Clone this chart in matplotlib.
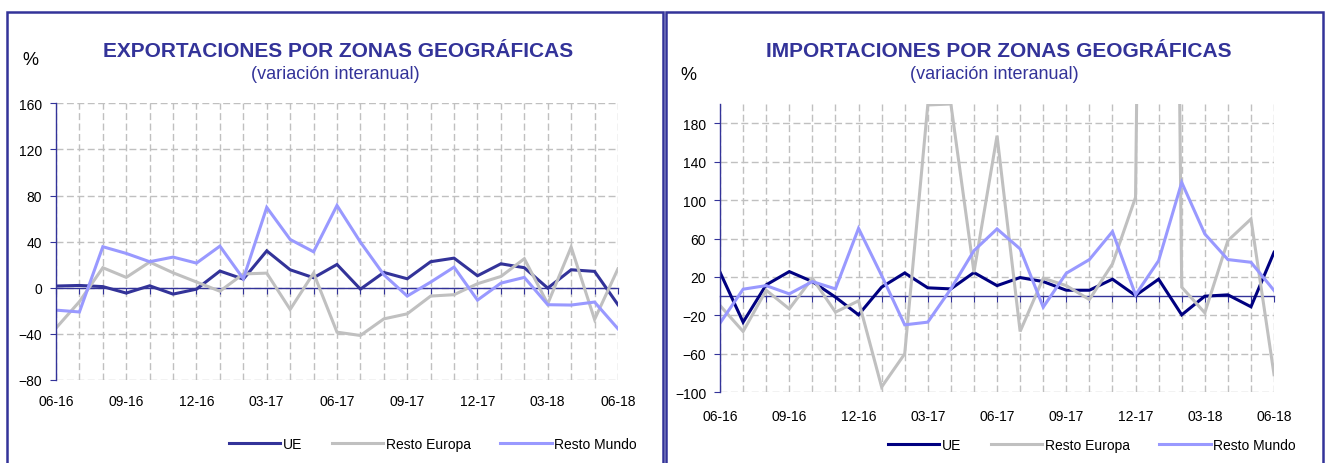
import matplotlib
matplotlib.use("Agg")
import matplotlib.pyplot as plt
from matplotlib.patches import Rectangle

plt.rcParams['font.family'] = ['Liberation Sans', 'DejaVu Sans']

# meses 06-16 .. 06-18
meses = ['06-16', '07-16', '08-16', '09-16', '10-16', '11-16', '12-16',
         '01-17', '02-17', '03-17', '04-17', '05-17', '06-17', '07-17',
         '08-17', '09-17', '10-17', '11-17', '12-17', '01-18', '02-18',
         '03-18', '04-18', '05-18', '06-18']

# exportaciones (variacion interanual, %)
exp_ue = [1.5, 2, 1, -4.6, 1.7, -5.5, -1.2, 14.5, 7.5, 32, 15.6, 8.7, 20.2,
          -1.2, 13.3, 7.8, 22.6, 25.7, 10.4, 20.8, 17.4, -0.3, 15.6, 14.2, -14.7]
exp_europa = [-35, -12, 17.4, 9, 22.3, 13, 5, -3, 12, 12.7, -18.8, 12.7, -38.5,
              -41.4, -27, -22.6, -7.2, -6, 3.5, 9.8, 25.2, -13.9, 35.3, -27.5, 16.5]
exp_mundo = [-19.4, -21, 35.6, 29.8, 22.6, 26.6, 21.4, 36.1, 7.8, 69.7, 41.9, 31.2, 71.4,
             39.6, 11.3, -7.2, 4.9, 17.9, -10.7, 4, 9, -14.7, -15, -12.4, -35.6]

# importaciones (variacion interanual, %)
imp_ue = [24.9, -27, 11.8, 25.6, 15.2, -1, -19.4, 9.4, 24.2, 8.7, 7.6, 24.6, 11,
          19.4, 15.2, 6.2, 6.2, 17.7, 0.7, 17.7, -19.4, 0, 1.4, -11, 45.7]
imp_europa = [-9.7, -36.7, 6.2, -13.2, 18.7, -16.6, -4.8, -94.5, -60, 199, 200, 25, 167,
              -36.7, 18.7, 11, -3.5, 33.6, 102.9, 2200, 9.4, -17.3, 57.8, 80.3, -81.7]
imp_mundo = [-28, 7.3, 11, 2.4, 15.2, 7.6, 70.6, 21.5, -29.8, -27, 7.6, 47.4, 70,
             49.2, -11.4, 23.9, 38.1, 67.2, 1.4, 37, 118.4, 64.8, 38.1, 35.3, 5.9]

series_nombres = ['UE', 'Resto Europa', 'Resto Mundo']
azul_marco = '#333399'
gris = '#c0c0c0'
lila = '#9999ff'

fig = plt.figure(figsize=(13.27, 4.64), dpi=100)

# marcos de los dos paneles
for x0 in (0.0049, 0.5019):
    fig.add_artist(Rectangle((x0, -0.05), 0.4950, 1.0226, transform=fig.transFigure,
                             fill=False, edgecolor=azul_marco, linewidth=1.8))


def panel(rect, datos, color_ue, ylim, yticks, titulo, tx, sx, px, py, leg_x, leg_y, xpad):
    ax = fig.add_axes(rect)
    x = list(range(len(meses)))
    colores = [color_ue, gris, lila]
    for serie, col, nombre in zip(datos, colores, series_nombres):
        ax.plot(x, serie, color=col, lw=2.2, label=nombre, solid_joinstyle='miter')
    ax.set_xlim(0, len(meses) - 1)
    ax.set_ylim(*ylim)
    ax.set_yticks(yticks)
    ax.set_xticks(x)
    ax.set_xticklabels([m if i % 3 == 0 else '' for i, m in enumerate(meses)])

    ax.grid(True, color=gris, linestyle=(0, (5, 2.5)), lw=1.0)
    ax.set_axisbelow(True)

    for s in ('right', 'bottom'):
        ax.spines[s].set_visible(False)
    ax.spines['left'].set_color(azul_marco)
    ax.spines['left'].set_linewidth(1.0)
    # eje de categorias cruzando en cero
    ax.spines['top'].set_position(('data', 0))
    ax.spines['top'].set_color(azul_marco)
    ax.spines['top'].set_linewidth(1.0)
    ax.spines['top'].set_zorder(1.5)

    ax.tick_params(axis='x', which='both', bottom=False, top=True, labelbottom=True,
                   labeltop=False, direction='in', length=4, color=azul_marco,
                   labelsize=10, pad=xpad)
    ax.tick_params(axis='y', direction='out', length=4, color=azul_marco, labelsize=10,
                   pad=6)

    fig.text(tx, 0.8772, titulo, ha='center', va='baseline', fontsize=15,
             fontweight='bold', color=azul_marco)
    fig.text(sx, 0.8289, '(variación interanual)', ha='center', va='baseline',
             fontsize=13, color=azul_marco)
    fig.text(px, py, '%', ha='center', va='baseline', fontsize=13, color='black')

    fig.legend(*ax.get_legend_handles_labels(), loc='center',
               bbox_to_anchor=(leg_x, leg_y), ncol=3, frameon=False, fontsize=10,
               handlelength=3.7, handletextpad=0.2, columnspacing=2.1)
    return ax


panel([0.0422, 0.1789, 0.4235, 0.5963], [exp_ue, exp_europa, exp_mundo], azul_marco,
      (-80, 160), list(range(-80, 161, 40)), 'EXPORTACIONES POR ZONAS GEOGRÁFICAS',
      0.2547, 0.2525, 0.0226, 0.860, 0.3263, 0.041, 10)

panel([0.5426, 0.1524, 0.4175, 0.6213], [imp_ue, imp_europa, imp_mundo], '#000080',
      (-100, 200), list(range(-100, 181, 40)), 'IMPORTACIONES POR ZONAS GEOGRÁFICAS',
      0.7528, 0.749, 0.5185, 0.8276, 0.8229, 0.0388, 12)

fig.savefig('out.png', dpi=100)
